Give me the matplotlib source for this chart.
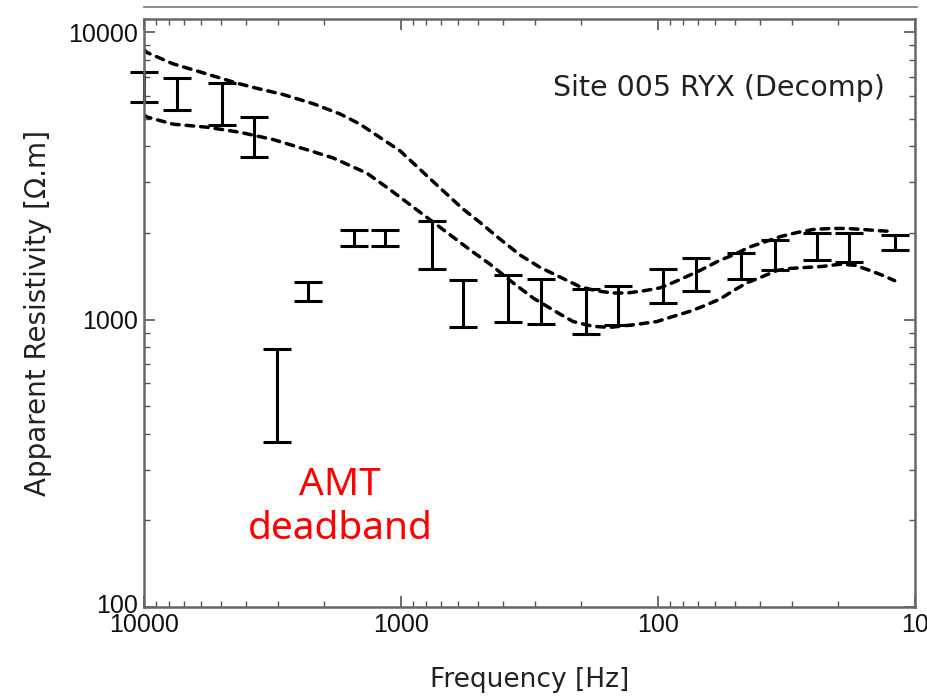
import numpy as np
import matplotlib
matplotlib.use("Agg")
import matplotlib.pyplot as plt
from matplotlib import ticker
from matplotlib.lines import Line2D
from matplotlib.transforms import ScaledTranslation

# measured data: frequency [Hz], apparent resistivity error bar limits [ohm.m]
freq = [10000, 7440, 4970, 3730, 3040, 2300, 1530, 1150, 760, 575, 383,
        286, 190, 143, 96, 71, 47.5, 35, 24, 18, 12]
rho_hi = [7260, 6920, 6640, 5070, 791, 1354, 2056, 2041, 2196, 1376, 1434,
          1388, 1279, 1311, 1494, 1635, 1703, 1895, 2007, 2007, 1974]
rho_lo = [5730, 5364, 4742, 3683, 376, 1159, 1803, 1803, 1494, 939, 977,
          962, 889, 954, 1140, 1258, 1388, 1482, 1608, 1582, 1746]

# model response curves (dashed)
fa = [10000, 9735, 7714, 5684, 4346, 3634, 2878, 2199, 1728, 1444, 1175, 1009,
      751, 574, 493, 423, 344, 288, 247, 201, 173, 150, 132, 114, 98, 84,
      68.6, 57.4, 51.1, 43.9, 33.5, 28.8, 24.9, 21.4, 18.4, 15.9, 14.1, 12.2]
rho_a = [8700, 8488, 7756, 7147, 6640, 6372, 6066, 5636, 5192, 4783, 4230, 3865,
         3023, 2424, 2178, 1942, 1676, 1519, 1422, 1300, 1258, 1237, 1237, 1258,
         1289, 1365, 1482, 1608, 1676, 1789, 1942, 2007, 2057, 2074, 2074, 2057,
         2040, 2024]
fb = [10000, 9735, 7714, 5684, 4231, 3149, 2322, 1839, 1356, 1104, 898, 662,
      525, 450, 367, 306, 247, 214, 179, 154, 121, 101, 87.4, 75.1, 66.8, 57.4,
      51.1, 45.0, 40.1, 34.4, 30.6, 26.1, 22.8, 19.6, 17.1, 15.0, 13.3, 12.0]
rho_b = [5148, 5066, 4783, 4667, 4480, 4230, 3896, 3650, 3228, 2831, 2464, 2007,
         1718, 1557, 1343, 1188, 1059, 984, 947, 939, 962, 984, 1025, 1068, 1112,
         1178, 1258, 1343, 1399, 1482, 1506, 1519, 1531, 1557, 1544, 1482, 1422,
         1365]

tick_font = "Liberation Sans"
label_font = "DejaVu Sans"

fig = plt.figure(figsize=(9.27, 6.97), dpi=100)
ax = fig.add_axes([0.1553, 0.1291, 0.8318, 0.8436])

# dashed model curves
for f, r in [(fa, rho_a), (fb, rho_b)]:
    ax.plot(f, r, color="black", lw=2.5, linestyle=(0, (2.2, 2.0)),
            dash_capstyle="round")

# error bars
lo = np.array(rho_lo)
hi = np.array(rho_hi)
mid = np.sqrt(lo * hi)
ax.errorbar(freq, mid, yerr=[mid - lo, hi - mid], fmt="none", ecolor="black",
            elinewidth=2.2, capsize=10, capthick=2.2, clip_on=False)

ax.set_xscale("log")
ax.set_yscale("log")
ax.set_xlim(10000, 10)
ax.set_ylim(100, 11100)

ax.set_xticks([10000, 1000, 100, 10], ["10000", "1000", "100", "10"])
ax.set_yticks([100, 1000, 10000], ["100", "1000", "10000"])
ax.xaxis.set_minor_locator(ticker.LogLocator(base=10, subs=np.arange(2, 10)))
ax.yaxis.set_minor_locator(ticker.LogLocator(base=10, subs=np.arange(2, 10)))
ax.xaxis.set_minor_formatter(ticker.NullFormatter())
ax.yaxis.set_minor_formatter(ticker.NullFormatter())

ax.tick_params(which="both", direction="in", top=True, right=True,
               color="#555555")
ax.tick_params(which="major", length=8, width=1.2, labelsize=18, pad=4,
               labelcolor="#111111")
ax.tick_params(which="minor", length=4, width=1.0)
for lab in ax.get_xticklabels() + ax.get_yticklabels():
    lab.set_family(tick_font)
# the reference sets the lowest y label a little above the corner
ylab = ax.get_yticklabels()[0]
ylab.set_transform(ylab.get_transform() + ScaledTranslation(0, 4 / 100, fig.dpi_scale_trans))

for s in ax.spines.values():
    s.set_color("#666666")
    s.set_linewidth(1.8)

ax.set_xlabel("Frequency [Hz]", fontsize=19, family=label_font,
              color="#222222", labelpad=22)
ax.set_ylabel("Apparent Resistivity [\u03a9.m]", fontsize=20,
              family=label_font, color="#222222", labelpad=12)

ax.text(0.961, 0.883, "Site 005 RYX (Decomp)", transform=ax.transAxes,
        ha="right", va="center", fontsize=20.5, family=label_font,
        color="#222222")
ax.text(0.254, 0.170, "AMT\ndeadband", transform=ax.transAxes,
        ha="center", va="center", fontsize=28, family="Noto Sans",
        color="red", linespacing=1.2)

# thin rule above the plot
fig.add_artist(Line2D([144 / 927, 917 / 927], [0.990, 0.990],
                      transform=fig.transFigure, color="#777777", lw=1.2))

fig.savefig("out.png", dpi=100)
